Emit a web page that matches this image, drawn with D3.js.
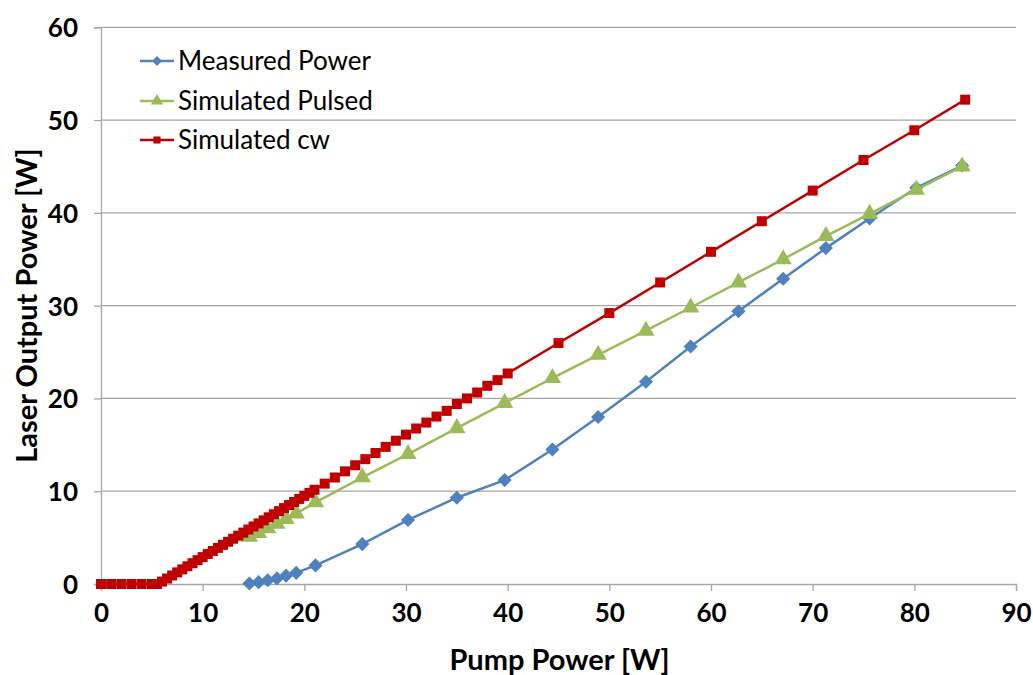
<!DOCTYPE html>
<html><head><meta charset="utf-8">
<script src="https://cdn.jsdelivr.net/npm/d3@7"></script>
<style>
body{margin:0;background:#fff;}
text{font-family:Lato,"Open Sans",sans-serif;}
</style></head>
<body><svg id="c" width="1033" height="675"></svg>
<script>
// ---- data ----
const xTicks = [0,10,20,30,40,50,60,70,80,90];
const yTicks = [0,10,20,30,40,50,60];
const seriesNames = ["Measured Power","Simulated Pulsed","Simulated cw"];

const measuredX = [14.6,15.5,16.4,17.3,18.2,19.2,21.1,25.7,30.2,35.0,39.7,44.4,48.9,53.6,58.0,62.7,67.1,71.3,75.6,80.2,84.7];
const measuredY = [0.05,0.2,0.4,0.6,0.9,1.2,2.0,4.3,6.9,9.3,11.2,14.5,18.0,21.8,25.6,29.4,32.9,36.2,39.4,42.7,45.1];

const pulsedX = [14.6,15.5,16.4,17.3,18.2,19.2,21.1,25.7,30.2,35.0,39.7,44.4,48.9,53.6,58.0,62.7,67.1,71.3,75.6,80.2,84.7];
const pulsedY = [5.1,5.5,6.0,6.5,7.0,7.6,8.8,11.5,14.0,16.8,19.5,22.2,24.7,27.3,29.8,32.5,35.0,37.5,39.9,42.5,45.0];

const cwX = [0,1,2,3,4,5,5.5,6,6.5,7,7.5,8,8.5,9,9.5,10,10.5,11,11.5,12,12.5,13,13.5,14,14.5,15,15.5,16,16.5,17,17.5,18,18.5,19,19.5,20,20.5,21,
  22,23,24,25,26,27,28,29,30,31,32,33,34,35,36,37,38,39,40,45,50,55,60,65,70,75,80,85];
const cwY = [0,0,0,0,0,0,0,0.26,0.59,0.92,1.25,1.58,1.91,2.24,2.57,2.90,3.23,3.56,3.89,4.22,4.55,4.88,5.21,5.54,5.87,6.20,6.53,6.86,7.19,7.52,7.85,8.18,8.51,8.84,9.17,9.50,9.83,10.16,
  10.82,11.48,12.14,12.80,13.46,14.12,14.78,15.44,16.10,16.76,17.4,18.05,18.66,19.4,20.0,20.64,21.36,21.97,22.69,25.97,29.2,32.5,35.8,39.1,42.4,45.7,48.9,52.2];

// ---- layout ----
const svg = d3.select("#c");
const L = 101, R = 1016, T = 27.3, B = 584;
const x = d3.scaleLinear().domain([0,90]).range([L,R]);
const y = d3.scaleLinear().domain([0,60]).range([B,T]);
const gridCol = "#a6a6a6";

// gridlines
svg.append("g").selectAll("line").data(yTicks.filter(d=>d>0)).join("line")
  .attr("x1",L).attr("x2",R).attr("y1",d=>y(d)).attr("y2",d=>y(d))
  .attr("stroke",gridCol).attr("stroke-width",1.3);

// axes
const yAxis = svg.append("g").attr("transform",`translate(${L},0)`)
  .call(d3.axisLeft(y).tickValues(yTicks).tickSize(7).tickPadding(16));
const xAxis = svg.append("g").attr("transform",`translate(0,${B})`)
  .call(d3.axisBottom(x).tickValues(xTicks).tickSize(7).tickPadding(13));
[yAxis,xAxis].forEach(g=>{
  g.select(".domain").attr("stroke",gridCol).attr("stroke-width",1.3);
  g.selectAll(".tick line").attr("stroke",gridCol).attr("stroke-width",1.3);
  g.selectAll(".tick text").attr("font-family","Lato, sans-serif").attr("font-weight","bold")
   .attr("font-size",26).attr("fill","#000");
});
yAxis.selectAll(".tick text").attr("dy","0.36em");

// titles
svg.append("text").attr("x",(L+R)/2+1).attr("y",670).attr("text-anchor","middle")
  .attr("font-weight","bold").attr("font-size",29).text("Pump Power [W]");
svg.append("text").attr("transform",`translate(37,${(T+B)/2}) rotate(-90)`).attr("text-anchor","middle")
  .attr("font-weight","bold").attr("font-size",29).text("Laser Output Power [W]");

// series
const colors = ["#4F81BD","#9BBB59","#C00000"];
const symbols = [d3.symbolSquare, d3.symbolTriangle, d3.symbolSquare];
const rotations = [45, 0, 0];
const sizes = [100, 130, 100];
const series = [
  {xs:measuredX, ys:measuredY},
  {xs:pulsedX, ys:pulsedY},
  {xs:cwX, ys:cwY}
];
const line = d3.line().x(d=>x(d[0])).y(d=>y(d[1]));
[0,1,2].forEach(i=>{
  const s = series[i];
  const pts = s.xs.map((v,k)=>[v,s.ys[k]]);
  const g = svg.append("g");
  g.append("path").datum(pts).attr("d",line).attr("fill","none")
    .attr("stroke",colors[i]).attr("stroke-width",2.5);
  g.selectAll("path.m").data(pts).join("path").attr("class","m")
    .attr("transform",d=>`translate(${x(d[0])},${y(d[1])}) rotate(${rotations[i]})`)
    .attr("d",d3.symbol().type(symbols[i]).size(sizes[i]))
    .attr("fill",colors[i]);
});

// legend
const lg = svg.append("g");
const legY = [61,101,140];
seriesNames.forEach((n,i)=>{
  const g = lg.append("g").attr("transform",`translate(0,${legY[i]})`);
  g.append("line").attr("x1",140).attr("x2",174).attr("stroke",colors[i]).attr("stroke-width",2.5);
  g.append("path").attr("transform",`translate(157,0) rotate(${rotations[i]})`).attr("d",d3.symbol().type(symbols[i]).size(sizes[i]*0.5)).attr("fill",colors[i]);
  g.append("text").attr("x",178).attr("y",0).attr("dy","0.35em").attr("font-size",26).attr("fill","#000").text(n);
});
</script></body></html>
